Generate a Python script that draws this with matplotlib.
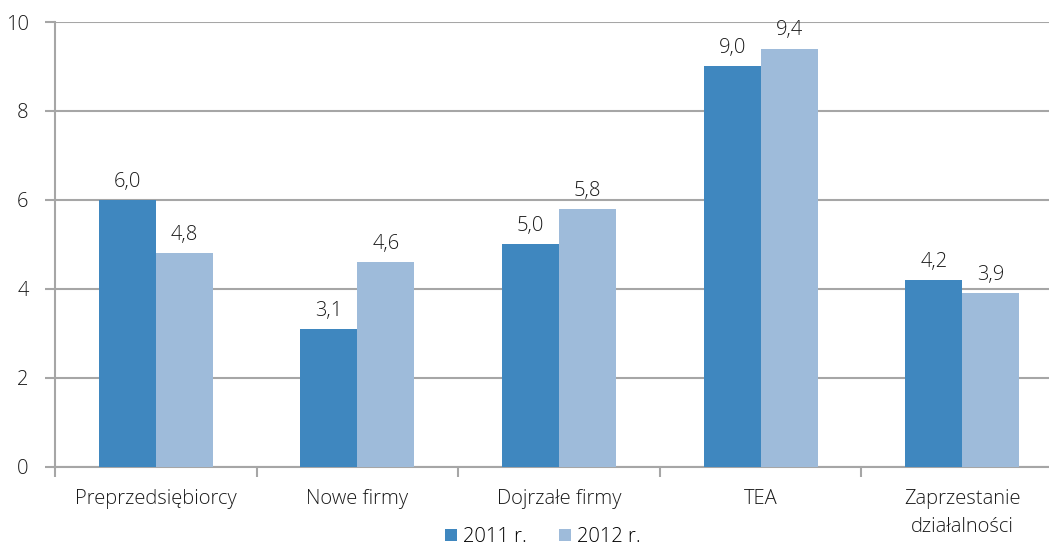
import numpy as np
import matplotlib.pyplot as plt
from matplotlib.ticker import FixedLocator

plt.rcParams['font.family'] = ['Open Sans', 'DejaVu Sans']
plt.rcParams['font.weight'] = 'light'

categories = ['Preprzedsiębiorcy', 'Nowe firmy', 'Dojrzałe firmy', 'TEA',
              'Zaprzestanie\ndziałalności']
val_2011 = [6.0, 3.1, 5.0, 9.0, 4.2]
val_2012 = [4.8, 4.6, 5.8, 9.4, 3.9]
series_names = ['2011 r.', '2012 r.']

c_dark = '#3F87BF'
c_light = '#9EBBDA'
grid_c = '#A6A6A6'
txt_c = '#1a1a1a'
fs = 14.5

fig = plt.figure(figsize=(10.49, 5.5), dpi=100)
ax = fig.add_axes([0.0524, 0.151, 0.961, 0.809])

x = np.arange(len(categories))
w = 0.283
b1 = ax.bar(x - w / 2, val_2011, w, color=c_dark, label=series_names[0], zorder=3)
b2 = ax.bar(x + w / 2, val_2012, w, color=c_light, label=series_names[1], zorder=3)

for bars, vals in ((b1, val_2011), (b2, val_2012)):
    for rect, v in zip(bars, vals):
        ax.annotate(f'{v:.1f}'.replace('.', ','),
                    (rect.get_x() + rect.get_width() / 2, v),
                    xytext=(0, 6), textcoords='offset points',
                    ha='center', va='bottom', fontsize=fs, color=txt_c)

ax.set_xlim(-0.5, len(categories) - 0.5)
ax.set_ylim(0, 10)
ax.set_yticks(range(0, 11, 2))
ax.yaxis.grid(True, color=grid_c, linewidth=1.5, zorder=0)
ax.set_axisbelow(True)

ax.set_xticks(x)
ax.set_xticklabels(categories, fontsize=fs, color=txt_c, linespacing=1.55)
ax.xaxis.set_minor_locator(FixedLocator(np.arange(-0.5, len(categories), 1)))
ax.tick_params(axis='x', which='major', length=0, pad=16)
ax.tick_params(axis='x', which='minor', length=7, width=1.5, color=grid_c)
ax.tick_params(axis='y', length=7, width=1.5, color=grid_c, labelsize=fs,
               labelcolor=txt_c, pad=12)

for s in ('top', 'right'):
    ax.spines[s].set_visible(False)
for s in ('left', 'bottom'):
    ax.spines[s].set_color(grid_c)
    ax.spines[s].set_linewidth(1.5)

ax.legend(loc='lower center', bbox_to_anchor=(0.484, -0.198), ncol=2, frameon=False,
          fontsize=fs, handlelength=0.6, handleheight=0.6, handletextpad=0.3,
          columnspacing=1.6, borderaxespad=0)

fig.savefig('out.png', dpi=100)
